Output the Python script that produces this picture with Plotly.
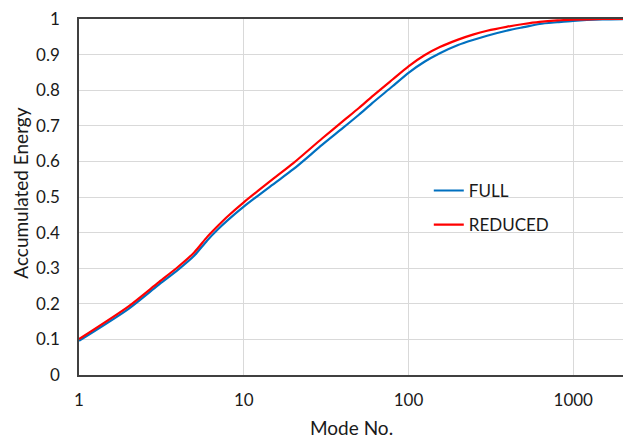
import plotly.graph_objects as go

modes = [1, 2, 3, 4, 5, 6, 7, 8, 10, 15, 20, 30, 40, 50, 60, 80, 100, 125, 155, 200, 246, 300, 393, 500, 625, 800, 1000, 1500, 2100]
full = [0.096, 0.186, 0.251, 0.296, 0.335, 0.378, 0.410, 0.435, 0.473, 0.535, 0.578, 0.647, 0.694, 0.731, 0.763, 0.811, 0.849, 0.880, 0.904, 0.927, 0.941, 0.953, 0.967, 0.977, 0.986, 0.991, 0.995, 0.999, 1.0]
reduced = [0.101, 0.193, 0.258, 0.304, 0.344, 0.388, 0.420, 0.446, 0.485, 0.550, 0.595, 0.665, 0.713, 0.750, 0.782, 0.830, 0.867, 0.898, 0.921, 0.942, 0.956, 0.967, 0.978, 0.986, 0.992, 0.996, 0.998, 1.0, 1.0]
x_ticks = [1, 10, 100, 1000]
y_ticks = [0, 0.1, 0.2, 0.3, 0.4, 0.5, 0.6, 0.7, 0.8, 0.9, 1]

font = "Lato"
txt = "#1a1a1a"
fig = go.Figure()
fig.add_trace(go.Scatter(x=modes, y=full, mode="lines", name="FULL", legend="legend",
                         line=dict(color="#0070C0", width=2.2, shape="spline", smoothing=0.7)))
fig.add_trace(go.Scatter(x=modes, y=reduced, mode="lines", name="REDUCED", legend="legend2",
                         line=dict(color="#FF0000", width=2.2, shape="spline", smoothing=0.7)))

leg = dict(xanchor="left", yanchor="middle", bgcolor="rgba(0,0,0,0)",
           font=dict(family=font, size=17, color=txt), itemwidth=30, borderwidth=0)
fig.update_layout(
    template="none",
    width=623, height=440,
    margin=dict(l=79, r=0, t=19, b=65, autoexpand=False),
    paper_bgcolor="white", plot_bgcolor="white",
    font=dict(family=font, size=17, color=txt),
    showlegend=True,
    legend=dict(x=0.643, y=0.517, **leg),
    legend2=dict(x=0.643, y=0.421, **leg),
    xaxis=dict(type="log", range=[0, 3.302], tickvals=x_ticks,
               ticktext=[str(v) for v in x_ticks],
               showgrid=True, gridcolor="#d9d9d9", gridwidth=1,
               showline=True, linecolor="#404040", linewidth=1.5, mirror=True,
               ticks="", ticklabelstandoff=9, zeroline=False, automargin=False,
               tickfont=dict(family=font, size=17, color=txt)),
    yaxis=dict(range=[0, 1], tickvals=y_ticks,
               ticktext=[("%g" % v) for v in y_ticks],
               showgrid=True, gridcolor="#d9d9d9", gridwidth=1,
               showline=True, linecolor="#404040", linewidth=1.5,
               ticks="", ticklabelstandoff=14, zeroline=False, automargin=False,
               tickfont=dict(family=font, size=17, color=txt)),
    annotations=[
        dict(text="Mode No.", xref="paper", yref="paper", x=0.5, y=-0.148,
             xanchor="center", yanchor="middle", showarrow=False,
             font=dict(family=font, size=19, color=txt)),
        dict(text="Accumulated Energy", xref="paper", yref="paper", x=-0.108, y=0.51,
             xanchor="center", yanchor="middle", textangle=-90, showarrow=False,
             font=dict(family=font, size=19, color=txt)),
    ],
)
fig.write_html("out.html", config={"displayModeBar": False},
               post_script="document.body.style.margin='0';document.body.style.overflow='hidden';")
